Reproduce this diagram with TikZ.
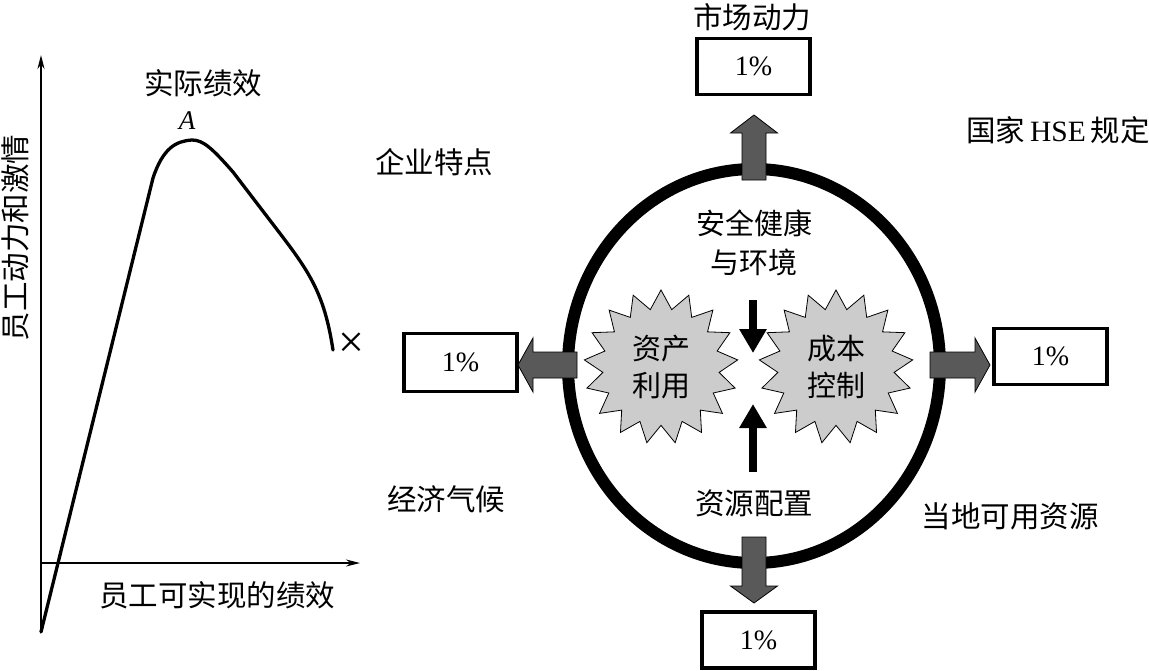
\documentclass[tikz,border=0pt]{standalone}
\usepackage{fontspec}
\setmainfont{Liberation Serif}
\newfontfamily\cjk{Noto Sans CJK SC}
\usetikzlibrary{shapes.geometric,arrows.meta,calc}
\tikzset{
  lbl/.style={font=\fontsize{29.5}{35}\selectfont\cjk, inner sep=0pt, align=center},
  pctbox/.style={draw=black, line width=3.5pt, fill=white, minimum width=113pt, minimum height=56pt, inner sep=0pt, font=\fontsize{28}{32}\selectfont},
  burst/.style={star, star points=17, star point ratio=1.32, minimum size=154pt, draw=black, line width=0.8pt, fill=black!20, inner sep=0pt, align=center, font=\fontsize{29}{37}\selectfont\cjk},
  blockarrow/.style={draw=black, line width=0.8pt, fill=black!65},
  smallarrow/.style={line width=8pt, -{Triangle[length=24pt, width=26pt]}},
  axis/.style={line width=1.6pt, -{Stealth[length=14pt, width=7pt]}},
}
\begin{document}
\begin{tikzpicture}[x=1pt, y=-1pt]
\useasboundingbox (0,0) rectangle (1149,670);
% ---------------- left graph ----------------
\coordinate (O) at (41,563);
\coordinate (ytop) at (41,55);
\coordinate (xend) at (360,563);
\draw[line width=1.6pt] (41,563) -- (41,632);
\draw[axis] (O) -- (ytop);
\draw[axis] (O) -- (xend);
\draw[line width=3.3pt, line join=round, line cap=round]
  (41,632) -- (153,178)
  .. controls (163,148) and (176,141) .. (192,140)
  .. controls (203,140) and (212,148) .. (233,172)
  -- (285,240)
  .. controls (312,276) and (325,298) .. (333,350);
\node[lbl, rotate=90] (ylab) at (15,238) {员工动力和激情};
\node[lbl] (xlab) at (217,595) {员工可实现的绩效};
\node[lbl] (actual) at (203,83) {实际绩效};
\node[font=\fontsize{27}{30}\selectfont\itshape, inner sep=0pt] (A) at (187,121) {A};
\node[font=\fontsize{46}{50}\selectfont, inner sep=0pt] (cross) at (351,345) {×};
% ---------------- right diagram ----------------
\coordinate (C) at (754,366);
\draw[line width=12pt] (C) ellipse [x radius=186, y radius=197];
% boxes
\node[pctbox] (btop) at (753.5,66.5) {1\%};
\node[pctbox] (bbot) at (758.5,640) {1\%};
\node[pctbox, minimum height=58pt] (bleft) at (460.5,362.5) {1\%};
\node[pctbox] (bright) at (1050.5,356.5) {1\%};
% block arrows (over the ring)
\draw[blockarrow] (742,180) -- (742,133) -- (730.5,133) -- (754,115) -- (777.5,133) -- (766,133) -- (766,180) -- cycle;
\draw[blockarrow] (742,537) -- (742,586) -- (730.5,586) -- (754,603) -- (777.5,586) -- (766,586) -- (766,537) -- cycle;
\draw[blockarrow] (577,352) -- (533,352) -- (533,338) -- (518,365) -- (533,392) -- (533,378) -- (577,378) -- cycle;
\draw[blockarrow] (930,352) -- (975,352) -- (975,338) -- (990,365) -- (975,392) -- (975,378) -- (930,378) -- cycle;
% bursts
\node[burst] (asset) at (661,367) {资产\\利用};
\node[burst] (cost) at (836,367) {成本\\控制};
% small arrows
\coordinate (dn1) at (753,300);
\coordinate (dn2) at (753,353);
\coordinate (up1) at (753,472);
\coordinate (up2) at (753,404);
\draw[smallarrow] (dn1) -- (dn2);
\draw[smallarrow] (up1) -- (up2);
% labels inside ring
\node[lbl, font=\fontsize{29}{39}\selectfont\cjk] (hse) at (754,243) {安全健康\\与环境};
\node[lbl] (alloc) at (754,503) {资源配置};
% outer labels
\node[lbl] (market) at (752,17) {市场动力};
\node[lbl] (natl) at (1058,130) {国家\,{\rmfamily HSE}\,规定};
\node[lbl] (firm) at (434,162) {企业特点};
\node[lbl] (econ) at (446,499) {经济气候};
\node[lbl] (local) at (1010,516) {当地可用资源};
\end{tikzpicture}
\end{document}
